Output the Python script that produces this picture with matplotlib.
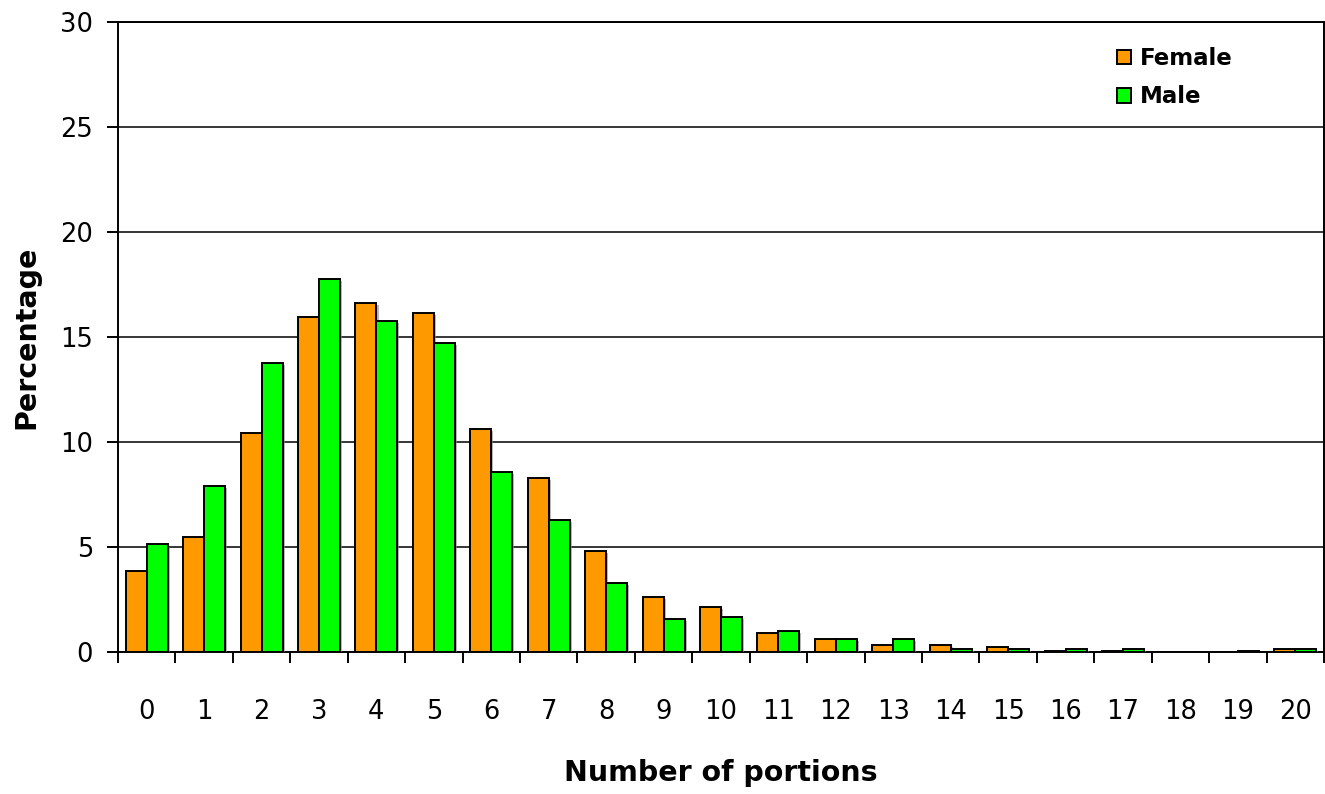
import matplotlib
matplotlib.use("Agg")
import matplotlib.pyplot as plt
import numpy as np
from matplotlib.patches import Patch
import matplotlib.patheffects as pe

categories = [str(i) for i in range(21)]
female = [3.86, 5.47, 10.45, 15.95, 16.62, 16.15, 10.62, 8.28, 4.83, 2.63, 2.15,
          0.9, 0.62, 0.35, 0.35, 0.25, 0.06, 0.05, 0.0, 0.0, 0.14]
male = [5.12, 7.9, 13.77, 17.77, 15.77, 14.72, 8.56, 6.27, 3.3, 1.58, 1.67,
        1.0, 0.62, 0.62, 0.16, 0.16, 0.16, 0.16, 0.0, 0.05, 0.16]
series_names = ["Female", "Male"]
colors = ["#FF9900", "#00FF00"]
yticks = [0, 5, 10, 15, 20, 25, 30]

plt.rcParams['font.family'] = ['DejaVu Sans']

fig = plt.figure(figsize=(13.25, 7.94), dpi=100)
ax = fig.add_axes([118/1325, 1-652/794, (1324-118)/1325, (652-22)/794])

x = np.arange(len(categories))
w = 0.365
shadow = [pe.SimplePatchShadow(offset=(1.5, -1.5), shadow_rgbFace='#888888', alpha=0.6), pe.Normal()]
for vals, off, col in [(female, -w/2, colors[0]), (male, w/2, colors[1])]:
    bars = ax.bar(x + off, vals, width=w, color=col, edgecolor='black', linewidth=1.4, zorder=3)
    for b in bars:
        b.set_path_effects(shadow)

ax.set_xlim(-0.5, 20.5)
ax.set_ylim(0, 30)
ax.set_yticks(yticks)
ax.set_yticklabels([str(t) for t in yticks])
ax.set_xticks(x)
ax.set_xticklabels(categories)
ax.set_xticks(np.arange(-0.5, 21, 1), minor=True)

ax.yaxis.grid(True, color='black', linewidth=1.1, zorder=1)
ax.set_axisbelow(True)
for s in ax.spines.values():
    s.set_linewidth(1.4)
    s.set_color('black')

ax.tick_params(axis='x', which='major', length=0, pad=34, labelsize=18.5)
ax.tick_params(axis='x', which='minor', length=8, width=1.4, direction='out')
ax.tick_params(axis='y', which='major', length=8, width=1.4, direction='out', pad=10, labelsize=18.5)

ax.set_xlabel("Number of portions", fontsize=20.5, fontweight='bold', labelpad=24)
ax.set_ylabel("Percentage", fontsize=20.5, fontweight='bold', labelpad=14)

handles = [Patch(facecolor=colors[0], edgecolor='black', linewidth=1.4),
           Patch(facecolor=colors[1], edgecolor='black', linewidth=1.4)]
leg = ax.legend(handles, series_names, loc='upper left', bbox_to_anchor=(1117/1325, 1-47/794),
                bbox_transform=fig.transFigure, frameon=False,
                prop={'weight': 'bold', 'size': 16.5}, handlelength=0.62, handleheight=0.62,
                handletextpad=0.4, labelspacing=0.67, borderaxespad=0, borderpad=0)

fig.savefig("out.png", dpi=100)
